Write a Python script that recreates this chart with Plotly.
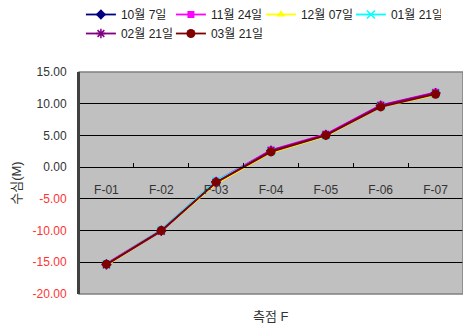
import plotly.graph_objects as go

# Survey stations (측점) and water depth readings (수심, m) per survey date
stations = ["F-01", "F-02", "F-03", "F-04", "F-05", "F-06", "F-07"]

d_1007 = [-15.3, -10.0, -2.3, 2.6, 5.1, 9.7, 11.7]
d_1124 = [-15.2, -9.9, -2.2, 2.7, 5.2, 9.8, 11.8]
d_1207 = [-15.5, -10.1, -2.6, 2.3, 4.9, 9.5, 11.4]
d_0121 = [-15.3, -9.9, -2.2, 2.5, 5.0, 9.6, 11.6]
d_0221 = [-15.4, -10.1, -2.4, 2.6, 5.1, 9.7, 11.7]
d_0321 = [-15.3, -10.0, -2.4, 2.4, 5.0, 9.5, 11.5]

series_names = ["10월 7일", "11월 24일", "12월 07일", "01월 21일", "02월 21일", "03월 21일"]
series_data = [d_1007, d_1124, d_1207, d_0121, d_0221, d_0321]
series_colors = ["#000080", "#FF00FF", "#FFFF00", "#00FFFF", "#800080", "#800000"]
series_symbols = ["diamond", "square", "triangle-up", "x-thin", "asterisk", "circle"]
series_sizes = [8, 7, 8, 8, 8, 9]

y_tick_values = [15, 10, 5, 0, -5, -10, -15, -20]
y_min, y_max = -20, 15

FONT = "Liberation Sans, Noto Sans CJK KR, sans-serif"

def y_tick_label(v):
    txt = f"{v:.2f}"
    if v < 0:
        return f"<span style='color:#FF3333'>{txt}</span>"
    return txt

fig = go.Figure()
for name, vals, col, sym, sz in zip(series_names, series_data, series_colors,
                                    series_symbols, series_sizes):
    open_sym = sym in ("x-thin", "asterisk")
    fig.add_trace(go.Scatter(
        x=stations, y=vals, name=name, mode="lines+markers",
        line=dict(color=col, width=1.8),
        marker=dict(symbol=sym, size=sz, color=col,
                    line=dict(color=col, width=1.5 if open_sym else 0)),
    ))

zero_pos = (0 - y_min) / (y_max - y_min)

fig.update_layout(
    width=463, height=331,
    margin=dict(l=79, r=0, t=72, b=37),
    paper_bgcolor="white",
    plot_bgcolor="#C0C0C0",
    font=dict(family=FONT, size=12, color="#222222"),
    showlegend=True,
    legend=dict(
        orientation="h", x=0.005, xanchor="left", y=1.0, yanchor="top",
        yref="container",
        entrywidth=45, entrywidthmode="pixels",
        font=dict(size=12, color="#222222"),
        bgcolor="rgba(0,0,0,0)", itemwidth=30, tracegroupgap=0,
    ),
    xaxis=dict(
        type="category", range=[-0.5, 6.5],
        anchor="free", position=zero_pos,
        showline=True, linecolor="#000000", linewidth=1,
        ticks="inside", ticklen=4, tickcolor="#000000", tickson="boundaries",
        showgrid=False, zeroline=False,
        ticklabelstandoff=11,
        tickfont=dict(size=12, color="#333333"),
    ),
    yaxis=dict(
        range=[y_min, y_max],
        tickvals=y_tick_values,
        ticktext=[y_tick_label(v) for v in y_tick_values],
        showgrid=True, gridcolor="#000000", gridwidth=1,
        zeroline=False,
        showline=True, linecolor="#404040", linewidth=2,
        ticks="", ticklabelstandoff=8,
        tickfont=dict(size=12, color="#333333"),
        title=dict(text="수심(M)", font=dict(size=13, color="#333333"), standoff=8),
    ),
    annotations=[dict(
        text="측점 F", xref="paper", yref="paper", x=0.5, y=-0.0,
        yshift=-22, xanchor="center", yanchor="middle", showarrow=False,
        font=dict(size=13, color="#333333"),
    )],
    shapes=[
        dict(type="rect", xref="paper", yref="paper", x0=0, x1=1, y0=0, y1=1,
             line=dict(color="#808080", width=1.5), layer="above"),
        dict(type="line", xref="paper", yref="paper", x0=0, x1=0, y0=0, y1=1,
             line=dict(color="#404040", width=2), layer="above"),
    ],
)

fig.write_html("out.html")
